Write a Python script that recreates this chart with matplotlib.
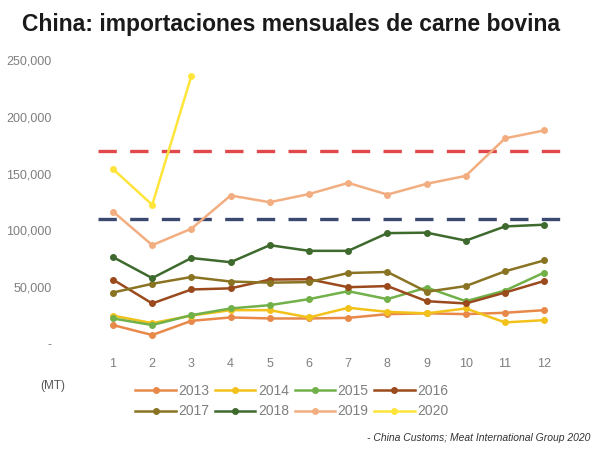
import matplotlib
matplotlib.use("Agg")
import matplotlib.pyplot as plt
from matplotlib.ticker import FuncFormatter

plt.rcParams['font.family'] = ['Liberation Sans', 'DejaVu Sans']

months = list(range(1, 13))
years = ['2013', '2014', '2015', '2016', '2017', '2018', '2019', '2020']

v2013 = [16700, 7900, 20400, 23400, 22500, 22500, 23000, 26300, 27000, 26300, 27500, 29800]
v2014 = [25000, 18400, 25000, 29800, 29800, 23400, 31900, 28300, 27000, 31300, 19000, 21000]
v2015 = [22500, 16700, 25400, 31300, 34200, 39500, 46500, 39500, 49700, 37700, 47000, 62900]
v2016 = [56700, 35700, 48000, 49000, 56700, 57000, 50000, 51000, 37700, 35700, 45300, 55500]
v2017 = [45300, 53000, 59000, 55000, 54000, 54500, 62500, 63400, 46000, 51000, 64000, 73600]
v2018 = [76500, 58000, 75700, 72000, 87000, 82000, 82000, 97600, 98000, 91000, 103500, 105000]
v2019 = [116600, 87000, 101500, 130700, 124800, 132000, 141800, 131500, 141000, 148000, 181000, 188000]
v2020 = [154000, 122500, 236000]

red_level = 170000
blue_level = 110000

series = [v2013, v2014, v2015, v2016, v2017, v2018, v2019, v2020]
colors = ['#E8894A', '#F2C21B', '#72B04A', '#9A4A1C', '#8A7424', '#3E6A2E', '#F2AE80', '#FFE53A']

fig = plt.figure(figsize=(6.13, 4.66), dpi=100)
ax = fig.add_axes([93.4/613, 1-349.7/466, (575.6-93.4)/613, (349.7-48.6)/466])

ax.plot([0.62, 12.7], [red_level, red_level], color='#E0484B', lw=2.4,
        dashes=(5.5, 4), zorder=1)
ax.plot([0.62, 12.7], [blue_level, blue_level], color='#3B4870', lw=2.4,
        dashes=(5.5, 4), zorder=1)

handles = []
for yr, vals, c in zip(years, series, colors):
    h, = ax.plot(months[:len(vals)], vals, color=c, lw=1.8, marker='o', ms=4,
                 label=yr, zorder=3)
    handles.append(h)

ax.set_xlim(0.5, 12.8)
ax.set_ylim(-5000, 260000)
ax.set_xticks(months)
ax.set_yticks([0, 50000, 100000, 150000, 200000, 250000])
ax.yaxis.set_major_formatter(FuncFormatter(lambda v, p: '-' if v == 0 else f'{int(v):,}'))
for s in ax.spines.values():
    s.set_visible(False)
ax.tick_params(length=0, labelsize=9, colors='#7F7F7F', pad=6)
ax.tick_params(axis='y', pad=30)
for lab in ax.get_yticklabels():
    lab.set_horizontalalignment('right')

fig.text(22/613, 1-24/466, 'China: importaciones mensuales de carne bovina',
         fontsize=16.5, fontweight='bold', color='#1a1a1a', va='center', ha='left')

fig.text(40/613, 1-386/466, '(MT)', fontsize=8.5, color='#555555', va='center')

# matplotlib fills legend column-wise; reorder so rows read 2013-2016, 2017-2020
order = [0, 4, 1, 5, 2, 6, 3, 7]
leg = fig.legend([handles[i] for i in order], [years[i] for i in order],
                 loc='center', bbox_to_anchor=(292/613, 1-401/466), ncol=4,
                 frameon=False, fontsize=10, handlelength=2.9, columnspacing=0.4,
                 handletextpad=0.2, labelspacing=0.5)
for t in leg.get_texts():
    t.set_color('#7F7F7F')

fig.text(590/613, 1-438/466, '- China Customs; Meat International Group 2020',
         fontsize=7.5, style='italic', color='#333333', ha='right', va='center')

fig.savefig('out.png', dpi=100)
